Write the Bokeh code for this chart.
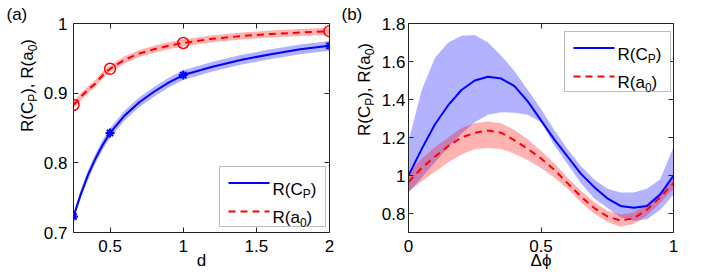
import math
from bokeh.plotting import figure
from bokeh.layouts import row
from bokeh.models import (FixedTicker, CustomJSTickFormatter, LinearAxis, Label,
                          BoxAnnotation, Arrow, Range1d, Title)
from bokeh.embed import file_html
from bokeh.resources import INLINE

# ---------------- data: panel (a) ----------------
d_curve = [0.25, 0.3, 0.35, 0.4, 0.45, 0.5, 0.6, 0.7, 0.8, 0.9, 1.0, 1.2, 1.4, 1.6, 1.8, 2.0]
rcp_a = [0.723, 0.755, 0.783, 0.806, 0.826, 0.843, 0.868, 0.887, 0.902, 0.915, 0.926, 0.938, 0.948, 0.956, 0.963, 0.968]
rcp_a_hi = [0.728, 0.761, 0.790, 0.813, 0.833, 0.850, 0.875, 0.894, 0.909, 0.922, 0.933, 0.945, 0.955, 0.963, 0.970, 0.975]
rcp_a_lo = [0.718, 0.749, 0.776, 0.799, 0.819, 0.836, 0.861, 0.880, 0.895, 0.908, 0.919, 0.931, 0.941, 0.949, 0.956, 0.961]
ra0_a = [0.883, 0.895, 0.905, 0.914, 0.926, 0.935, 0.948, 0.957, 0.963, 0.968, 0.972, 0.978, 0.982, 0.985, 0.987, 0.989]
ra0_a_hi = [0.888, 0.900, 0.910, 0.919, 0.931, 0.940, 0.953, 0.962, 0.968, 0.973, 0.977, 0.983, 0.987, 0.990, 0.992, 0.994]
ra0_a_lo = [0.878, 0.890, 0.900, 0.909, 0.921, 0.930, 0.943, 0.952, 0.958, 0.963, 0.967, 0.973, 0.977, 0.980, 0.982, 0.984]
d_pts = [0.25, 0.5, 1.0, 2.0]
rcp_pts = [0.723, 0.843, 0.926, 0.968]
ra0_pts = [0.883, 0.935, 0.972, 0.989]
xticks_a = [0.5, 1, 1.5, 2]
xlabels_a = ["0.5", "1", "1.5", "2"]
yticks_a = [0.7, 0.8, 0.9, 1]
ylabels_a = ["0.7", "0.8", "0.9", "1"]

# ---------------- data: panel (b) ----------------
dphi = [0, 0.05, 0.1, 0.15, 0.2, 0.25, 0.3, 0.35, 0.4, 0.45, 0.5,
        0.55, 0.6, 0.65, 0.7, 0.75, 0.8, 0.85, 0.9, 0.95, 1.0]
rcp_b = [1.00, 1.14, 1.27, 1.37, 1.45, 1.50, 1.52, 1.51, 1.47, 1.39, 1.29,
         1.19, 1.10, 1.01, 0.94, 0.88, 0.84, 0.83, 0.84, 0.90, 1.00]
rcp_b_hi = [1.18, 1.45, 1.62, 1.70, 1.735, 1.74, 1.70, 1.63, 1.55, 1.45, 1.35,
            1.24, 1.14, 1.05, 0.98, 0.93, 0.91, 0.91, 0.93, 0.98, 1.15]
rcp_b_lo = [0.91, 0.99, 1.07, 1.15, 1.22, 1.28, 1.32, 1.333, 1.33, 1.32, 1.28,
            1.16, 1.06, 0.96, 0.88, 0.83, 0.78, 0.76, 0.77, 0.82, 0.90]
ra0_b = [0.965, 1.04, 1.10, 1.155, 1.20, 1.225, 1.237, 1.225, 1.185, 1.14, 1.09,
         1.03, 0.96, 0.89, 0.83, 0.785, 0.763, 0.775, 0.82, 0.885, 0.96]
ra0_b_hi = [1.01, 1.09, 1.15, 1.20, 1.25, 1.275, 1.285, 1.275, 1.24, 1.19, 1.13,
            1.065, 0.99, 0.92, 0.86, 0.815, 0.795, 0.805, 0.85, 0.915, 0.99]
ra0_b_lo = [0.915, 0.97, 1.02, 1.07, 1.11, 1.14, 1.145, 1.14, 1.115, 1.08, 1.04,
            0.99, 0.93, 0.86, 0.80, 0.755, 0.73, 0.745, 0.79, 0.855, 0.93]
xticks_b = [0, 0.5, 1]
xlabels_b = ["0", "0.5", "1"]
yticks_b = [0.8, 1, 1.2, 1.4, 1.6, 1.8]
ylabels_b = ["0.8", "1", "1.2", "1.4", "1.6", "1.8"]

# ---------------- styling ----------------
FONT = "Liberation Sans"
FS = 17
SUB = 12
DROP = 5
BLUE = "#0000ff"
RED = "#ff0000"
AXC = "#222222"
H = 276
WIDTHS = {"R": 0.722, "(": 0.333, ")": 0.333, "C": 0.722, "P": 0.667, "a": 0.556,
          "0": 0.556, ",": 0.278, " ": 0.278}


def tw(text, size):
    return sum(WIDTHS.get(c, 0.556) for c in text) * size


def rich_label(p, segments, x, y, angle=0.0, center=True):
    widths = [tw(t, SUB if s else FS) for t, s in segments]
    pos = -sum(widths) / 2 if center else 0.0
    ca, sa = math.cos(angle), math.sin(angle)
    for (t, s), w in zip(segments, widths):
        drop = DROP if s else 0
        lx = x + pos * ca + drop * sa
        ly = y + pos * sa - drop * ca
        p.add_layout(Label(x=lx, y=ly, x_units="screen", y_units="screen", text=t,
                           angle=angle, text_font=FONT,
                           text_font_size=f"{SUB if s else FS}px",
                           text_align="left", text_baseline="alphabetic",
                           text_color="black"))
        pos += w


def formatter(ticks, labels):
    return CustomJSTickFormatter(args=dict(t=list(ticks), l=list(labels)),
                                 code="const i = t.indexOf(tick); return i >= 0 ? l[i] : '';")


def add_axes(p, xt, xl, yt, yl, xlabel, ystandoff):
    for loc, ticks, labels, show in (("below", xt, xl, True), ("above", xt, xl, False),
                                     ("left", yt, yl, True), ("right", yt, yl, False)):
        ax = LinearAxis(ticker=FixedTicker(ticks=ticks),
                        formatter=formatter(ticks, labels if show else [""] * len(labels)))
        ax.major_tick_in = 5
        ax.major_tick_out = 0
        ax.minor_tick_in = 0
        ax.minor_tick_out = 0
        ax.axis_line_color = AXC
        ax.major_tick_line_color = AXC
        ax.major_label_text_font = FONT
        ax.major_label_text_font_size = f"{FS}px" if show else "1px"
        ax.major_label_text_color = "black"
        if show:
            ax.major_label_standoff = 7 if loc == "below" else ystandoff
        else:
            ax.major_label_standoff = 0
        if loc == "below":
            ax.axis_label = xlabel
            ax.axis_label_text_font = FONT
            ax.axis_label_text_font_size = f"{FS}px"
            ax.axis_label_text_font_style = "normal"
            ax.axis_label_text_color = "black"
            ax.axis_label_standoff = -4
        p.add_layout(ax, loc)


def legend(p, left, bottom, w=106, h=60):
    p.add_layout(BoxAnnotation(left=left, right=left + w, bottom=bottom, top=bottom + h,
                               left_units="screen", right_units="screen",
                               top_units="screen", bottom_units="screen",
                               fill_color="white", fill_alpha=1.0,
                               line_color=AXC, line_width=1))
    y1 = bottom + h - 16.5
    y2 = bottom + h - 45
    p.add_layout(Arrow(x_start=left + 9, y_start=y1, x_end=left + 50, y_end=y1,
                       start_units="screen", end_units="screen", end=None,
                       line_color=BLUE, line_width=2))
    p.add_layout(Arrow(x_start=left + 9, y_start=y2, x_end=left + 50, y_end=y2,
                       start_units="screen", end_units="screen", end=None,
                       line_color=RED, line_width=2, line_dash="7 5"))
    rich_label(p, [("R(C", False), ("P", True), (")", False)], left + 53, y1 - 6, center=False)
    rich_label(p, [("R(a", False), ("0", True), (")", False)], left + 53, y2 - 6, center=False)


def make_fig(width, xr, yr, bl, br):
    p = figure(width=width, height=H, x_range=Range1d(*xr), y_range=Range1d(*yr),
               output_backend="svg", toolbar_location=None, title=None,
               x_axis_location=None, y_axis_location=None,
               min_border_left=bl, min_border_right=br, min_border_top=23,
               min_border_bottom=44)
    p.grid.visible = False
    p.outline_line_color = None
    p.background_fill_color = "white"
    p.border_fill_color = "white"
    return p


def label_fig(width, tag, tag_offset):
    title = Title(text=tag, align="left", offset=tag_offset, standoff=0,
                  text_font=FONT, text_font_size=f"{FS}px", text_font_style="normal",
                  text_color="black")
    f = figure(width=width, height=H, x_range=Range1d(0, 1), y_range=Range1d(0, 1),
               output_backend="svg", toolbar_location=None, title=title,
               x_axis_location=None, y_axis_location=None,
               min_border_left=0, min_border_right=0, min_border_top=0, min_border_bottom=0)
    f.grid.visible = False
    f.outline_line_color = None
    f.background_fill_color = "white"
    f.border_fill_color = "white"
    return f


YLABEL = [("R(C", False), ("P", True), ("), R(a", False), ("0", True), (")", False)]

# ---------------- label strip (a) ----------------
la = label_fig(40, "(a)", 6)
rich_label(la, YLABEL, 27, H - 129, angle=math.pi / 2)

# ---------------- panel (a) ----------------
pa = make_fig(301, (0.25, 2.0), (0.7, 1.0), 32, 12)
add_axes(pa, xticks_a, xlabels_a, yticks_a, ylabels_a, "d", 6)
pa.varea(x=d_curve, y1=ra0_a_lo, y2=ra0_a_hi, fill_color=RED, fill_alpha=0.3)
pa.varea(x=d_curve, y1=rcp_a_lo, y2=rcp_a_hi, fill_color=BLUE, fill_alpha=0.3)
pa.line(d_curve, rcp_a, line_color=BLUE, line_width=2)
pa.line(d_curve, ra0_a, line_color=RED, line_width=2, line_dash="7 5")
pa.scatter(d_pts, rcp_pts, marker="asterisk", size=9, line_color=BLUE, line_width=2)
pa.scatter(d_pts, ra0_pts, marker="circle", size=11, fill_color=None, line_color=RED, line_width=1.5)
legend(pa, 146, 6)

# ---------------- label strip (b) ----------------
lb = label_fig(37, "(b)", 0)
rich_label(lb, YLABEL, 23, H - 133, angle=math.pi / 2)

# ---------------- panel (b) ----------------
pb = make_fig(328, (0.0, 1.0), (0.7, 1.8), 27, 33)
add_axes(pb, xticks_b, xlabels_b, yticks_b, ylabels_b, "Δϕ", 3)
pb.varea(x=dphi, y1=rcp_b_lo, y2=rcp_b_hi, fill_color=BLUE, fill_alpha=0.3)
pb.varea(x=dphi, y1=ra0_b_lo, y2=ra0_b_hi, fill_color=RED, fill_alpha=0.3)
pb.line(dphi, rcp_b, line_color=BLUE, line_width=2)
pb.line(dphi, ra0_b, line_color=RED, line_width=2, line_dash="7 5")
legend(pb, 156, 141)

layout = row(la, pa, lb, pb)
open("out.html", "w").write(file_html(layout, INLINE))
